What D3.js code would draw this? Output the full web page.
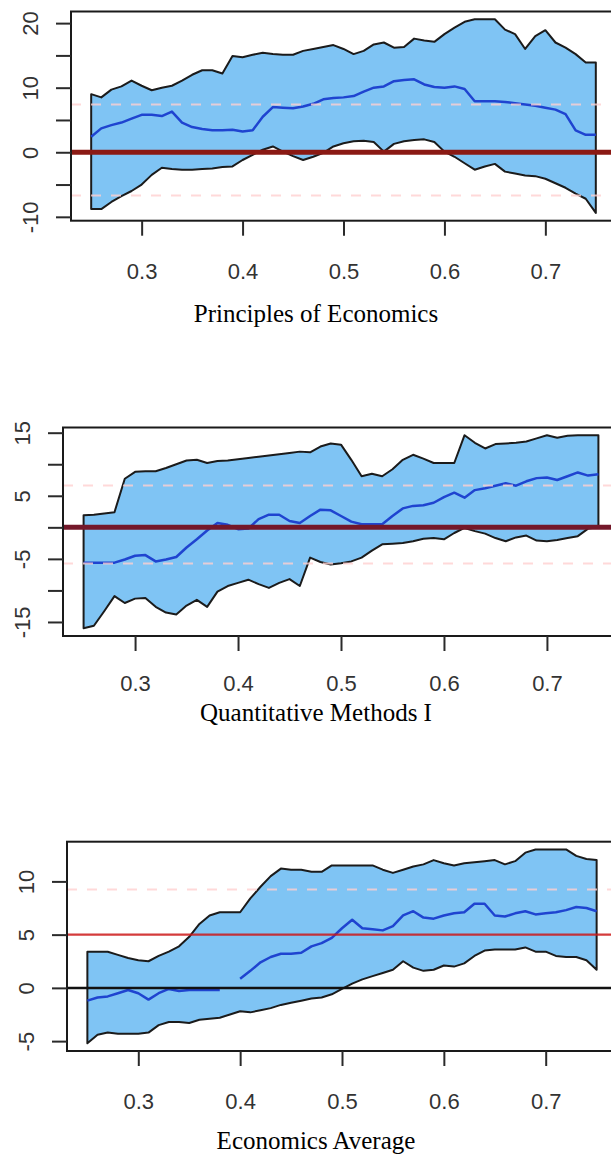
<!DOCTYPE html>
<html>
<head>
<meta charset="utf-8">
<script src="https://cdn.jsdelivr.net/npm/d3@7"></script>
<style>
  body { margin: 0; background: #fff; }
  svg { display: block; }
</style>
</head>
<body>
<svg id="chart" width="611" height="1160"></svg>
<script>
/* x grid shared by all three panels */
var xs = [0.25, 0.26, 0.27, 0.28, 0.29, 0.30, 0.31, 0.32, 0.33, 0.34,
          0.35, 0.36, 0.37, 0.38, 0.39, 0.40, 0.41, 0.42, 0.43, 0.44,
          0.45, 0.46, 0.47, 0.48, 0.49, 0.50, 0.51, 0.52, 0.53, 0.54,
          0.55, 0.56, 0.57, 0.58, 0.59, 0.60, 0.61, 0.62, 0.63, 0.64,
          0.65, 0.66, 0.67, 0.68, 0.69, 0.70, 0.71, 0.72, 0.73, 0.74, 0.75];
var xTicks = [0.3, 0.4, 0.5, 0.6, 0.7];

/* Principles of Economics */
var econUpper = [9.0, 8.5, 9.7, 10.2, 11.1, 10.3, 9.6, 10.0, 10.3, 11.1,
                 12.0, 12.7, 12.7, 12.2, 14.9, 14.7, 15.1, 15.4, 15.2, 15.1,
                 15.1, 15.7, 16.0, 16.3, 16.6, 16.0, 15.2, 15.7, 16.7, 17.0,
                 16.2, 16.3, 17.6, 17.3, 17.1, 18.3, 19.3, 20.2, 20.6, 20.6,
                 20.6, 19.0, 18.3, 16.0, 18.0, 18.9, 17.0, 16.2, 15.2, 13.9, 13.9];
var econLower = [-8.8, -8.8, -7.7, -6.8, -6.0, -5.0, -3.5, -2.4, -2.6, -2.7,
                 -2.7, -2.6, -2.5, -2.3, -2.2, -1.2, -0.4, 0.4, 0.9, 0.1,
                 -0.6, -1.2, -0.7, -0.1, 0.9, 1.4, 1.7, 1.8, 1.6, 0.1,
                 1.3, 1.7, 1.9, 2.0, 1.6, 0.1, -0.7, -1.7, -2.7, -2.2,
                 -1.8, -3.0, -3.3, -3.6, -3.7, -4.1, -4.8, -5.5, -6.4, -7.2, -9.4];
var econMid = [2.4, 3.7, 4.2, 4.6, 5.2, 5.8, 5.8, 5.6, 6.3, 4.6,
               3.9, 3.6, 3.4, 3.4, 3.5, 3.2, 3.4, 5.5, 7.0, 6.9,
               6.8, 7.1, 7.5, 8.2, 8.4, 8.5, 8.7, 9.4, 10.0, 10.2,
               11.0, 11.2, 11.3, 10.5, 10.1, 10.0, 10.2, 9.8, 7.9, 7.9,
               7.9, 7.8, 7.6, 7.4, 7.2, 6.9, 6.6, 5.9, 3.4, 2.7, 2.7];
var econYTicks = [-10, -5, 0, 5, 10, 15, 20];
var econYLabels = [-10, 0, 10, 20];
var econDashed = [7.4, -6.7];
var econSolid = [0];

/* Quantitative Methods I */
var quantUpper = [1.9, 2.0, 2.2, 2.4, 7.7, 8.8, 8.9, 8.9, 9.4, 10.0,
                  10.6, 10.7, 10.2, 10.5, 10.6, 10.8, 11.0, 11.2, 11.4, 11.6,
                  11.8, 12.0, 11.9, 12.8, 13.3, 13.1, 10.7, 8.1, 8.5, 8.1,
                  9.2, 10.7, 11.5, 10.9, 10.2, 10.2, 10.2, 14.6, 13.4, 12.5,
                  13.2, 13.3, 13.4, 13.6, 14.1, 14.6, 14.2, 14.5, 14.6, 14.6, 14.6];
var quantLower = [-16.0, -15.6, -13.3, -10.9, -12.0, -11.3, -11.2, -12.6, -13.5, -13.8,
                  -12.4, -11.5, -12.6, -10.2, -9.3, -8.8, -8.3, -9.0, -9.6, -8.8,
                  -8.2, -9.3, -4.8, -5.5, -5.9, -5.7, -5.4, -4.8, -3.7, -2.7,
                  -2.6, -2.5, -2.2, -1.8, -1.7, -1.9, -0.9, -0.1, -0.6, -1.0,
                  -1.7, -2.2, -1.6, -1.3, -2.1, -2.2, -2.0, -1.7, -1.4, -0.2, 0.0];
var quantMid = [-5.6, -5.6, -5.6, -5.6, -5.1, -4.5, -4.4, -5.4, -5.1, -4.7,
                -3.2, -1.9, -0.5, 0.7, 0.4, -0.3, -0.2, 1.3, 2.0, 2.0,
                1.0, 0.7, 1.8, 2.8, 2.7, 1.8, 0.9, 0.5, 0.5, 0.5,
                1.8, 3.0, 3.4, 3.5, 3.9, 4.8, 5.5, 4.7, 5.9, 6.2,
                6.6, 7.0, 6.6, 7.3, 7.8, 7.9, 7.5, 8.1, 8.7, 8.2, 8.4];
var quantYTicks = [-15, -10, -5, 0, 5, 10, 15];
var quantYLabels = [-15, -5, 5, 15];
var quantDashed = [6.65, -5.75];
var quantSolid = [0];

/* Economics Average */
var avgUpper = [3.4, 3.4, 3.4, 3.1, 2.8, 2.6, 2.5, 3.0, 3.4, 3.9,
                4.8, 6.0, 6.8, 7.1, 7.1, 7.1, 8.4, 9.5, 10.5, 11.2,
                11.1, 11.1, 10.9, 10.9, 11.5, 11.5, 11.5, 11.5, 11.5, 11.1,
                10.8, 11.1, 11.4, 11.6, 12.0, 11.7, 11.5, 11.7, 11.8, 11.9,
                12.0, 11.6, 11.9, 12.7, 13.0, 13.0, 13.0, 13.0, 12.4, 12.1, 12.0];
var avgLower = [-5.2, -4.4, -4.2, -4.3, -4.3, -4.3, -4.2, -3.5, -3.2, -3.2,
                -3.3, -3.0, -2.9, -2.8, -2.5, -2.2, -2.3, -2.1, -1.9, -1.6,
                -1.4, -1.2, -1.0, -0.9, -0.6, -0.1, 0.4, 0.8, 1.1, 1.4,
                1.7, 2.5, 1.9, 1.6, 1.7, 2.1, 2.0, 2.3, 3.0, 3.5,
                3.6, 3.6, 3.6, 3.8, 3.4, 3.4, 3.0, 2.9, 2.9, 2.6, 1.7];
var avgMid = [-1.2, -0.9, -0.8, -0.5, -0.2, -0.5, -1.1, -0.5, -0.1, -0.3,
              -0.2, -0.2, -0.2, -0.2, null, 0.85, 1.6, 2.4, 2.9, 3.2,
              3.2, 3.3, 3.9, 4.2, 4.7, 5.6, 6.4, 5.6, 5.5, 5.4,
              5.8, 6.8, 7.2, 6.6, 6.5, 6.8, 7.0, 7.1, 7.9, 7.9,
              6.8, 6.7, 7.0, 7.2, 6.9, 7.0, 7.1, 7.3, 7.6, 7.5, 7.2];
var avgYTicks = [-5, 0, 5, 10];
var avgYLabels = [-5, 0, 5, 10];
var avgDashed = [9.25];
var avgSolid = [0, 5];

var panels = [
  { title: 'Principles of Economics', upper: econUpper, lower: econLower, mid: econMid,
    yTicks: econYTicks, yLabels: econYLabels, dashed: econDashed, solid: econSolid,
    solidColors: ['#8b1a14'], solidWidths: [5],
    left: 71, right: 616, top: 11.5, bottom: 220.7, labelY: 271, titleY: 313 },
  { title: 'Quantitative Methods I', upper: quantUpper, lower: quantLower, mid: quantMid,
    yTicks: quantYTicks, yLabels: quantYLabels, dashed: quantDashed, solid: quantSolid,
    solidColors: ['#74182a'], solidWidths: [5],
    left: 63, right: 619, top: 427.5, bottom: 636, labelY: 683, titleY: 712 },
  { title: 'Economics Average', upper: avgUpper, lower: avgLower, mid: avgMid,
    yTicks: avgYTicks, yLabels: avgYLabels, dashed: avgDashed, solid: avgSolid,
    solidColors: ['#111', 'rgba(205,25,25,0.85)'], solidWidths: [2.5, 2.2],
    left: 67, right: 617, top: 841.7, bottom: 1051, labelY: 1101, titleY: 1140 }
];

var svg = d3.select('#chart');

panels.forEach(function (p, k) {
  /* R style axis extension: 4% on each side */
  var lo = d3.min(p.lower), hi = d3.max(p.upper);
  var pad = (hi - lo) * 0.04;
  var xPad = (xs[xs.length - 1] - xs[0]) * 0.04;

  var x = d3.scaleLinear()
    .domain([xs[0] - xPad, xs[xs.length - 1] + xPad])
    .range([p.left, p.right]);
  var y = d3.scaleLinear()
    .domain([lo - pad, hi + pad])
    .range([p.bottom, p.top]);

  var g = svg.append('g');

  var clipId = 'clip' + k;
  svg.append('clipPath').attr('id', clipId)
    .append('rect')
    .attr('x', p.left).attr('y', p.top)
    .attr('width', p.right - p.left).attr('height', p.bottom - p.top);

  var plot = g.append('g').attr('clip-path', 'url(#' + clipId + ')');

  /* confidence band */
  var band = d3.area()
    .x(function (d, i) { return x(xs[i]); })
    .y0(function (d, i) { return y(p.lower[i]); })
    .y1(function (d) { return y(d); });

  plot.append('path')
    .datum(p.upper)
    .attr('d', band)
    .attr('fill', '#7fc4f4')
    .attr('stroke', '#1b1b1b')
    .attr('stroke-width', 2)
    .attr('stroke-linejoin', 'round');

  /* estimate */
  var line = d3.line()
    .defined(function (d) { return d !== null; })
    .x(function (d, i) { return x(xs[i]); })
    .y(function (d) { return y(d); });

  plot.append('path')
    .datum(p.mid)
    .attr('d', line)
    .attr('fill', 'none')
    .attr('stroke', '#1f44d0')
    .attr('stroke-width', 2.5)
    .attr('stroke-linejoin', 'round');

  /* dashed reference lines */
  plot.selectAll('line.dash')
    .data(p.dashed)
    .join('line')
    .attr('class', 'dash')
    .attr('x1', p.left).attr('x2', p.right)
    .attr('y1', function (d) { return y(d); })
    .attr('y2', function (d) { return y(d); })
    .attr('stroke', 'rgba(255,208,208,0.8)')
    .attr('stroke-width', 2)
    .attr('stroke-dasharray', '10,10');

  /* solid reference lines */
  plot.selectAll('line.solid')
    .data(p.solid)
    .join('line')
    .attr('class', 'solid')
    .attr('x1', p.left).attr('x2', p.right)
    .attr('y1', function (d) { return y(d); })
    .attr('y2', function (d) { return y(d); })
    .attr('stroke', function (d, i) { return p.solidColors[i]; })
    .attr('stroke-width', function (d, i) { return p.solidWidths[i]; });

  /* box */
  g.append('rect')
    .attr('x', p.left).attr('y', p.top)
    .attr('width', p.right - p.left).attr('height', p.bottom - p.top)
    .attr('fill', 'none')
    .attr('stroke', '#1a1a1a')
    .attr('stroke-width', 2);

  /* axes */
  var xAxis = d3.axisBottom(x)
    .tickValues(xTicks)
    .tickSize(15)
    .tickFormat(d3.format('.1f'));

  var xg = g.append('g')
    .attr('transform', 'translate(0,' + p.bottom + ')')
    .call(xAxis);
  xg.select('.domain').remove();
  xg.selectAll('line').attr('stroke', '#2a2a2a').attr('stroke-width', 2);
  xg.selectAll('text')
    .attr('y', p.labelY - p.bottom)
    .attr('dy', '0.36em')
    .attr('fill', '#333')
    .style('font-family', '"Liberation Sans", Arial, sans-serif')
    .style('font-size', '22px');

  var yAxis = d3.axisLeft(y)
    .tickValues(p.yTicks)
    .tickSize(15)
    .tickFormat(function (d) { return p.yLabels.indexOf(d) >= 0 ? String(d) : ''; });

  var yg = g.append('g')
    .attr('transform', 'translate(' + p.left + ',0)')
    .call(yAxis);
  yg.select('.domain').remove();
  yg.selectAll('line').attr('stroke', '#2a2a2a').attr('stroke-width', 2);
  yg.selectAll('text')
    .attr('x', 0).attr('y', 0)
    .attr('dy', '0.36em')
    .attr('text-anchor', 'middle')
    .attr('transform', 'translate(-41,0) rotate(-90)')
    .attr('fill', '#333')
    .style('font-family', '"Liberation Sans", Arial, sans-serif')
    .style('font-size', '22px');

  /* caption */
  g.append('text')
    .attr('x', 316)
    .attr('y', p.titleY)
    .attr('dy', '0.35em')
    .attr('text-anchor', 'middle')
    .attr('fill', '#000')
    .style('font-family', '"Liberation Serif", "Times New Roman", serif')
    .style('font-size', '25px')
    .text(p.title);
});
</script>
</body>
</html>
